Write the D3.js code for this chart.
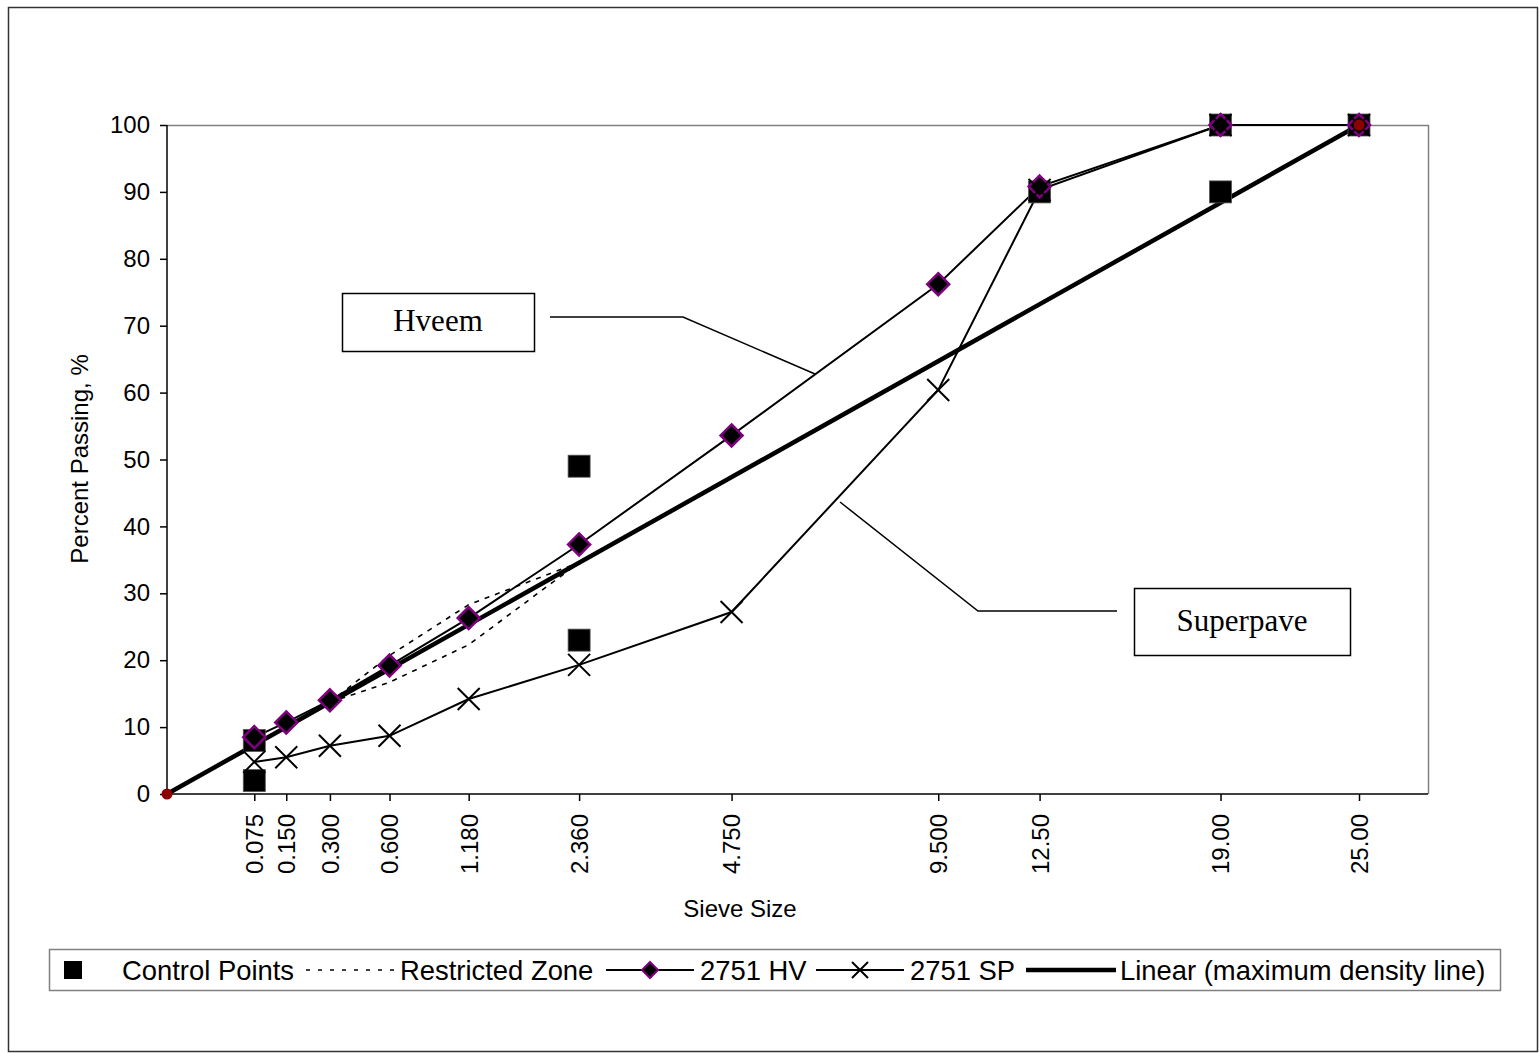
<!DOCTYPE html>
<html><head><meta charset="utf-8">
<script src="https://cdn.jsdelivr.net/npm/d3@7"></script>
<style>
html,body{margin:0;padding:0;background:#fff;}
svg{display:block;font-family:"Liberation Sans",Arial,sans-serif;}
</style></head>
<body><svg id="c" width="1539" height="1053"></svg>
<script>
// ---- data ----
const sieves = [0.075, 0.150, 0.300, 0.600, 1.180, 2.360, 4.750, 9.500, 12.50, 19.00, 25.00];
const sieveLabels = ["0.075","0.150","0.300","0.600","1.180","2.360","4.750","9.500","12.50","19.00","25.00"];
const hvValues = [8.5, 10.7, 14.0, 19.2, 26.3, 37.3, 53.6, 76.2, 90.8, 100, 100];
const spValues = [4.8, 5.5, 7.2, 8.7, 14.2, 19.3, 27.2, 60.4, 90.3, 100, 100];
const controlSieves = [0.075, 0.075, 2.36, 2.36, 12.5, 19.0, 19.0, 25.0];
const controlValues = [2, 8, 23, 49, 90, 90, 100, 100];
const rzSieves = [0.300, 0.600, 1.180, 2.360];
const rzLower = [13.7, 16.7, 22.3, 34.6];
const rzUpper = [13.7, 20.7, 28.3, 34.6];
const mdSieves = [0, 25.0];
const mdValues = [0, 100];
const yTicks = [0,10,20,30,40,50,60,70,80,90,100];
const legendLabels = ["Control Points","Restricted Zone","2751 HV","2751 SP","Linear (maximum density line)"];

// ---- layout ----
const svg = d3.select("#c");
const L = 167, R = 1428, T = 125, B = 794;
const x = d3.scalePow().exponent(0.45).domain([0, 28.33]).range([L, R]);
const y = d3.scaleLinear().domain([0, 100]).range([B, T]);

// outer border
svg.append("rect").attr("x",8.5).attr("y",7.5).attr("width",1529).attr("height",1044)
  .attr("fill","none").attr("stroke","#333").attr("stroke-width",1.5);

// plot area border (top/right gray)
svg.append("path").attr("d",`M${L},${T+0.5}H${R+0.5}V${B}`).attr("fill","none").attr("stroke","#808080").attr("stroke-width",1.5);

// y axis
const yAxis = d3.axisLeft(y).tickValues(yTicks).tickSize(7).tickPadding(10).tickFormat(d3.format("d"));
const gy = svg.append("g").attr("transform",`translate(${L},0)`).call(yAxis);
gy.select(".domain").attr("stroke","#000").attr("stroke-width",1.5).attr("d",`M0,${T}V${B}`);
gy.selectAll(".tick line").attr("stroke","#000").attr("stroke-width",1.5);
gy.selectAll(".tick text").attr("font-size",24).attr("font-family","Liberation Sans, Arial").attr("fill","#000");

// x axis
const xAxis = d3.axisBottom(x).tickValues(sieves).tickSize(7).tickFormat((d,i)=>sieveLabels[i]);
const gx = svg.append("g").attr("transform",`translate(0,${B})`).call(xAxis);
gx.select(".domain").attr("stroke","#000").attr("stroke-width",1.5).attr("d",`M${L},0H${R}`);
gx.selectAll(".tick line").attr("stroke","#000").attr("stroke-width",1.5);
gx.selectAll(".tick text").attr("font-size",24).attr("font-family","Liberation Sans, Arial").attr("fill","#000")
  .attr("text-anchor","end").attr("dy","0.35em").attr("transform","translate(0,20) rotate(-90)").attr("x",0).attr("y",0);

// axis titles
svg.append("text").attr("x",740).attr("y",917).attr("text-anchor","middle").attr("font-size",24).text("Sieve Size");
svg.append("text").attr("transform","translate(88,459) rotate(-90)").attr("text-anchor","middle").attr("font-size",24).text("Percent Passing, %");

const line = d3.line().x(d=>x(d[0])).y(d=>y(d[1]));
const zip = (a,b)=>a.map((v,i)=>[v,b[i]]);

// restricted zone (dotted)
[rzLower, rzUpper].forEach(arr=>{
  svg.append("path").attr("d",line(zip(rzSieves,arr))).attr("fill","none")
    .attr("stroke","#000").attr("stroke-width",1.6).attr("stroke-dasharray","5,6");
});
// HV line
svg.append("path").attr("d",line(zip(sieves,hvValues))).attr("fill","none").attr("stroke","#000").attr("stroke-width",2);
// SP line
svg.append("path").attr("d",line(zip(sieves,spValues))).attr("fill","none").attr("stroke","#000").attr("stroke-width",2);
// maximum density line
svg.append("path").attr("d",line(zip(mdSieves,mdValues))).attr("fill","none").attr("stroke","#000").attr("stroke-width",4.5);

// control points
svg.append("g").selectAll("rect").data(zip(controlSieves,controlValues)).join("rect")
  .attr("x",d=>x(d[0])-11).attr("y",d=>y(d[1])-11).attr("width",22).attr("height",22)
  .attr("fill","#000").attr("stroke","#555").attr("stroke-width",0.8);

// HV diamonds
const diamond = (cx,cy,r)=>`M${cx},${cy-r}L${cx+r},${cy}L${cx},${cy+r}L${cx-r},${cy}Z`;
svg.append("g").selectAll("path").data(zip(sieves,hvValues)).join("path")
  .attr("d",d=>diamond(x(d[0]),y(d[1]),11)).attr("fill","#000").attr("stroke","#800080").attr("stroke-width",2.5);

// SP crosses
const cross = (cx,cy,r)=>`M${cx-r},${cy-r}L${cx+r},${cy+r}M${cx-r},${cy+r}L${cx+r},${cy-r}`;
svg.append("g").selectAll("path").data(zip(sieves,spValues)).join("path")
  .attr("d",d=>cross(x(d[0]),y(d[1]),11)).attr("fill","none").attr("stroke","#000").attr("stroke-width",2);

// max density markers
svg.append("g").selectAll("circle").data(zip(mdSieves,mdValues)).join("circle")
  .attr("cx",d=>x(d[0])).attr("cy",d=>y(d[1])).attr("r",5.5).attr("fill","#8B0000");

// annotations
function callout(bx,by,bw,bh,label,pts){
  svg.append("rect").attr("x",bx+0.5).attr("y",by+0.5).attr("width",bw).attr("height",bh)
    .attr("fill","#fff").attr("stroke","#000").attr("stroke-width",1.5);
  svg.append("text").attr("x",bx+bw/2).attr("y",by+bh/2+9).attr("text-anchor","middle")
    .attr("font-family","Liberation Serif, Times New Roman, serif").attr("font-size",31).text(label);
  svg.append("path").attr("d","M"+pts.map(p=>p.join(",")).join("L")).attr("fill","none").attr("stroke","#000").attr("stroke-width",1.5);
}
callout(342,293,192,58,"Hveem",[[550,317],[683,317],[815,374]]);
callout(1134,588,216,67,"Superpave",[[1117,611],[978,611],[840,502]]);

// legend
const lg = svg.append("g");
lg.append("rect").attr("x",49.5).attr("y",949.5).attr("width",1451).attr("height",41)
  .attr("fill","#fff").attr("stroke","#808080").attr("stroke-width",1.5);
const ly = 970;
lg.append("rect").attr("x",64).attr("y",ly-9).attr("width",18).attr("height",18).attr("fill","#000");
lg.append("line").attr("x1",306).attr("x2",394).attr("y1",ly).attr("y2",ly).attr("stroke","#000").attr("stroke-width",1.6).attr("stroke-dasharray","4,8");
lg.append("line").attr("x1",606).attr("x2",694).attr("y1",ly).attr("y2",ly).attr("stroke","#000").attr("stroke-width",2);
lg.append("path").attr("d",diamond(650,ly,8)).attr("fill","#000").attr("stroke","#800080").attr("stroke-width",2);
lg.append("line").attr("x1",816).attr("x2",904).attr("y1",ly).attr("y2",ly).attr("stroke","#000").attr("stroke-width",2);
lg.append("path").attr("d",cross(860,ly,8)).attr("fill","none").attr("stroke","#000").attr("stroke-width",2);
lg.append("line").attr("x1",1026).attr("x2",1116).attr("y1",ly).attr("y2",ly).attr("stroke","#000").attr("stroke-width",4.5);
const lx = [122, 400, 700, 910, 1120];
legendLabels.forEach((t,i)=>{
  lg.append("text").attr("x",lx[i]).attr("y",ly+9.5).attr("font-size",27.4).attr("fill","#000").text(t);
});
</script></body></html>
